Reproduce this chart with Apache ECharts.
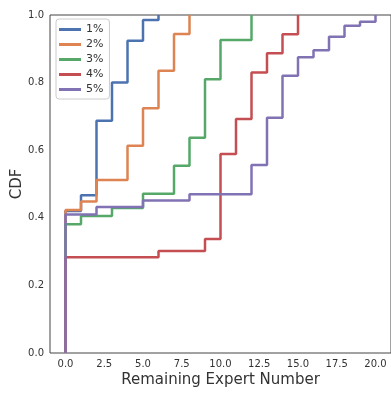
<!DOCTYPE html>
<html>
<head>
<meta charset="utf-8">
<script src="https://cdn.jsdelivr.net/npm/echarts@6/dist/echarts.min.js"></script>
<style>
  html, body { margin: 0; padding: 0; background: #fff; }
  #main { width: 391px; height: 393px; }
</style>
</head>
<body>
<div id="main"></div>
<script>
// legend names
var seriesNames = ['1%', '2%', '3%', '4%', '5%'];

// CDF value at x = 0, 1, 2, ... (one array per series)
var cdf1 = [0.42, 0.467, 0.687, 0.80, 0.924, 0.985, 1.0];
var cdf2 = [0.423, 0.448, 0.512, 0.512, 0.613, 0.724, 0.835, 0.944, 1.0];
var cdf3 = [0.381, 0.405, 0.405, 0.429, 0.429, 0.471, 0.471, 0.554, 0.637, 0.81, 0.926, 0.926, 1.0];
var cdf4 = [0.283, 0.283, 0.283, 0.283, 0.283, 0.283, 0.302, 0.302, 0.302, 0.337, 0.589, 0.692, 0.830, 0.887, 0.943, 1.0];
var cdf5 = [0.410, 0.410, 0.432, 0.432, 0.432, 0.451, 0.451, 0.451, 0.470, 0.470, 0.470, 0.470, 0.556, 0.696, 0.82, 0.875, 0.896, 0.936, 0.968, 0.980, 1.0];

// tick labels
var xTicks = [0, 2.5, 5, 7.5, 10, 12.5, 15, 17.5, 20];

var colors = ['#4C72B0', '#DD8452', '#55A868', '#C44E52', '#8172B3'];

// ecdf: starts at 0 on x = 0, then steps up
function toSteps(vals) {
  var pts = [[0, 0]];
  for (var i = 0; i < vals.length; i++) {
    pts.push([i, vals[i]]);
  }
  return pts;
}

var allCdf = [cdf1, cdf2, cdf3, cdf4, cdf5];
var series = [];
for (var k = 0; k < allCdf.length; k++) {
  series.push({
    name: seriesNames[k],
    type: 'line',
    step: 'end',
    symbol: 'none',
    data: toSteps(allCdf[k]),
    lineStyle: { color: colors[k], width: 2.5 },
    itemStyle: { color: colors[k] }
  });
}

var chart = echarts.init(document.getElementById('main'));
chart.setOption({
  animation: false,
  textStyle: { fontFamily: 'DejaVu Sans' },
  grid: {
    left: 50, top: 15, right: 0, bottom: 40,
    containLabel: false, outerBoundsMode: 'none',
    show: true, borderColor: '#444', borderWidth: 1
  },
  legend: {
    data: seriesNames,
    orient: 'vertical',
    left: 56, top: 19,
    padding: [5, 6, 4, 3],
    itemGap: 4,
    itemWidth: 22, itemHeight: 3,
    icon: 'rect',
    backgroundColor: '#fff',
    borderColor: '#ccc', borderWidth: 1, borderRadius: 3,
    textStyle: { fontSize: 11, lineHeight: 11, color: '#333', fontFamily: 'DejaVu Sans' }
  },
  xAxis: {
    type: 'value',
    min: -1, max: 21,
    name: 'Remaining Expert Number',
    nameLocation: 'middle',
    nameGap: 20,
    nameMoveOverlap: false,
    nameTextStyle: { fontSize: 15, color: '#333', fontFamily: 'DejaVu Sans' },
    axisLine: { show: false },
    axisTick: { show: false },
    splitLine: { show: false },
    axisLabel: {
      customValues: xTicks,
      fontSize: 10, color: '#333', margin: 6,
      formatter: function (v) { return v.toFixed(1); }
    }
  },
  yAxis: {
    type: 'value',
    min: 0, max: 1, interval: 0.2,
    name: 'CDF',
    nameLocation: 'middle',
    nameGap: 25,
    nameMoveOverlap: false,
    nameTextStyle: { fontSize: 15, color: '#333', fontFamily: 'DejaVu Sans' },
    axisLine: { show: false },
    axisTick: { show: false },
    splitLine: { show: false },
    axisLabel: {
      fontSize: 10, color: '#333', margin: 6,
      formatter: function (v) { return v.toFixed(1); }
    }
  },
  series: series
});
</script>
</body>
</html>
